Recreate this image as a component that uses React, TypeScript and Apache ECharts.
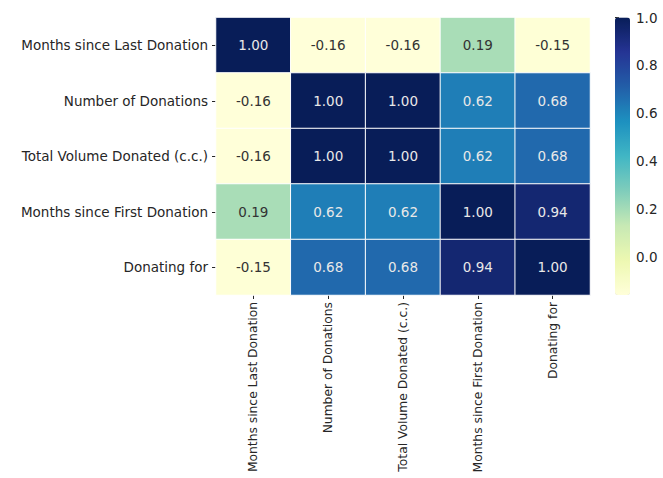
import React, { useEffect, useRef } from "react";
import * as echarts from "echarts";

const labels = [
  "Months since Last Donation",
  "Number of Donations",
  "Total Volume Donated (c.c.)",
  "Months since First Donation",
  "Donating for",
];

const row0 = [1.0, -0.16, -0.16, 0.19, -0.15];
const row1 = [-0.16, 1.0, 1.0, 0.62, 0.68];
const row2 = [-0.16, 1.0, 1.0, 0.62, 0.68];
const row3 = [0.19, 0.62, 0.62, 1.0, 0.94];
const row4 = [-0.15, 0.68, 0.68, 0.94, 1.0];
const matrix = [row0, row1, row2, row3, row4];

const colorbarTicks = [0.0, 0.2, 0.4, 0.6, 0.8, 1.0];
const vMin = -0.16;
const vMax = 1.0;

const ylgnbu = [
  "#ffffd9",
  "#edf8b1",
  "#c7e9b4",
  "#7fcdbb",
  "#41b6c4",
  "#1d91c0",
  "#225ea8",
  "#253494",
  "#081d58",
];

export default function App() {
  const ref = useRef<HTMLDivElement>(null);
  useEffect(() => {
    if (!ref.current) return;
    const chart = echarts.init(ref.current, undefined, { renderer: "svg" });
    const data: any[] = [];
    matrix.forEach((row, yi) => {
      row.forEach((v, xi) => {
        const t = (v - vMin) / (vMax - vMin);
        data.push({
          value: [xi, yi, v],
          label: { color: t > 0.5 ? "#e8e8e8" : "#333333" },
        });
      });
    });
    const font = "DejaVu Sans";
    const fs = 13.5;
    chart.setOption({
      animation: false,
      backgroundColor: "#ffffff",
      grid: [
        { left: 216, right: 73, top: 17.5, bottom: 183, outerBoundsMode: "none", containLabel: false },
        { left: 615, width: 15, top: 17.5, height: 277.5, outerBoundsMode: "none", containLabel: false },
      ],
      xAxis: [
        {
          type: "category",
          data: labels,
          gridIndex: 0,
          position: "bottom",
          axisLine: { show: false },
          axisTick: { show: true, alignWithLabel: true, length: 4, lineStyle: { color: "#262626" } },
          axisLabel: {
            rotate: 90,
            margin: 7,
            fontSize: 12.3,
            fontFamily: font,
            color: "#262626",
            interval: 0,
          },
          splitLine: { show: false },
        },
        { type: "value", gridIndex: 1, show: false, min: 0, max: 1 },
      ],
      yAxis: [
        {
          type: "category",
          data: labels,
          gridIndex: 0,
          inverse: true,
          axisLine: { show: false },
          axisTick: { show: true, alignWithLabel: true, length: 4, lineStyle: { color: "#262626" } },
          axisLabel: {
            margin: 8,
            fontSize: fs,
            fontFamily: font,
            color: "#262626",
            interval: 0,
          },
          splitLine: { show: false },
        },
        {
          type: "value",
          gridIndex: 1,
          position: "right",
          min: vMin,
          max: vMax,
          axisLine: { show: false },
          axisTick: {
            show: true,
            length: 4,
            customValues: colorbarTicks,
            lineStyle: { color: "#262626" },
          },
          axisLabel: {
            margin: 6,
            fontSize: fs,
            fontFamily: font,
            color: "#262626",
            customValues: colorbarTicks,
            formatter: (v: number) => v.toFixed(1),
          },
          splitLine: { show: false },
        },
      ],
      visualMap: {
        type: "continuous",
        min: vMin,
        max: vMax,
        seriesIndex: 0,
        calculable: false,
        orient: "vertical",
        left: 615,
        top: 17.5,
        itemWidth: 15,
        itemHeight: 277.5,
        padding: 0,
        text: ["", ""],
        inRange: { color: ylgnbu },
      },
      series: [
        {
          type: "heatmap",
          xAxisIndex: 0,
          yAxisIndex: 0,
          data,
          itemStyle: { borderColor: "#ffffff", borderWidth: 1 },
          label: {
            show: true,
            fontSize: fs,
            fontFamily: font,
            formatter: (p: any) => p.value[2].toFixed(2),
          },
        },
      ],
    });
    return () => chart.dispose();
  }, []);
  return (
    <div
      ref={ref}
      style={{ position: "fixed", left: 0, top: 0, width: 663, height: 478 }}
    />
  );
}
